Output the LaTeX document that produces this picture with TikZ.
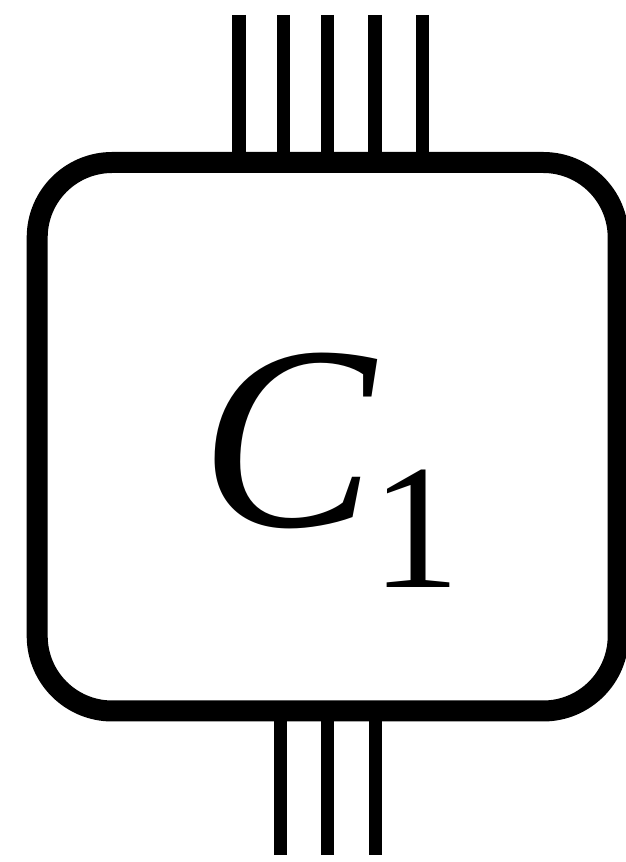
\documentclass[tikz,border=0pt]{standalone}
\usepackage{fontspec}
\setmainfont{Liberation Serif}
\begin{document}
\begin{tikzpicture}[x=1pt,y=1pt,
  boxstyle/.style={draw=black,line width=21pt,rounded corners=75pt},
  wire/.style={draw=black,line width=13.5pt,line cap=butt}]
\useasboundingbox (0,0) rectangle (626,862);
\clip (0,0) rectangle (626,862);
\fill[white] (0,0) rectangle (626,862);
% box
\coordinate (bl) at (37.2,151);
\coordinate (tr) at (618.2,699.5);
\draw[boxstyle] (bl) rectangle (tr);
% top wires
\coordinate (t1) at (239,847);
\coordinate (t2) at (283.5,847);
\coordinate (t3) at (327.7,847);
\coordinate (t4) at (375,847);
\coordinate (t5) at (422.3,847);
\coordinate (u1) at (239,699.5);
\coordinate (u2) at (283.5,699.5);
\coordinate (u3) at (327.7,699.5);
\coordinate (u4) at (375,699.5);
\coordinate (u5) at (422.3,699.5);
\foreach \i in {1,...,5} {\draw[wire] (t\i) -- (u\i);}
% bottom wires
\coordinate (b1) at (280.5,7);
\coordinate (b2) at (327.7,7);
\coordinate (b3) at (375.3,7);
\coordinate (d1) at (280.5,151);
\coordinate (d2) at (327.7,151);
\coordinate (d3) at (375.3,151);
\foreach \i in {1,2,3} {\draw[wire] (b\i) -- (d\i);}
% label
\node[anchor=base west,inner sep=0pt] (lab) at (200,335)
  {\fontsize{262}{262}\selectfont\itshape C\kern-3pt\raisebox{-61pt}{\fontsize{178}{178}\selectfont\upshape 1}};
\end{tikzpicture}
\end{document}
